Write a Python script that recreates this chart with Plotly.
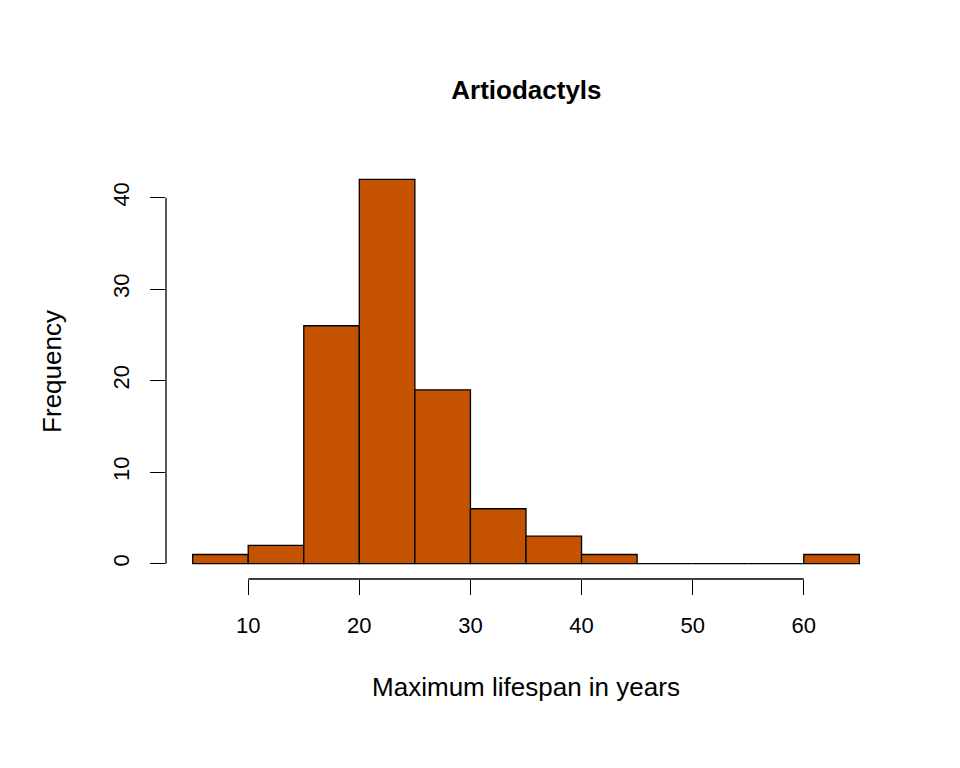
import plotly.graph_objects as go

bin_left = [5, 10, 15, 20, 25, 30, 35, 40, 45, 50, 55, 60]
counts = [1, 2, 26, 42, 19, 6, 3, 1, 0, 0, 0, 1]
xticks = [10, 20, 30, 40, 50, 60]
yticks = [0, 10, 20, 30, 40]
bw = 5

fig = go.Figure(go.Bar(
    x=[b + bw / 2 for b in bin_left], y=counts, width=bw,
    marker=dict(color="#C45200", line=dict(color="black", width=1.3)),
))
font = dict(family="Liberation Sans, Arial", size=22, color="black")
fig.update_layout(
    width=960, height=768, plot_bgcolor="white", paper_bgcolor="white",
    margin=dict(l=157.5, r=81.5, t=156, b=197), showlegend=False,
    font=font,
    title=dict(text="<b>Artiodactyls</b>", x=0.54, xanchor="center", y=0.893, yanchor="middle",
               font=dict(size=26, family="Liberation Sans, Arial")),
    xaxis=dict(range=[2.6, 67.4], tickvals=xticks, ticks="outside", ticklen=15,
               tickwidth=1.3, tickcolor="black", showgrid=False, zeroline=False,
               showline=False, ticklabelstandoff=12,
               title=dict(text="Maximum lifespan in years", standoff=40)),
    yaxis=dict(range=[-1.68, 43.68], tickvals=yticks, ticks="outside", ticklen=15,
               tickwidth=1.3, tickcolor="black", showgrid=False, zeroline=False,
               showline=False, tickangle=-90, ticklabelstandoff=12,
               title=dict(text="Frequency", standoff=40)),
)
fig.add_shape(type="line", xref="x", yref="paper", x0=xticks[0], x1=xticks[-1], y0=0, y1=0,
              line=dict(color="black", width=1.3))
fig.add_shape(type="line", xref="paper", yref="y", x0=0, x1=0, y0=yticks[0], y1=yticks[-1],
              line=dict(color="black", width=1.3))
fig.write_html("out.html")
